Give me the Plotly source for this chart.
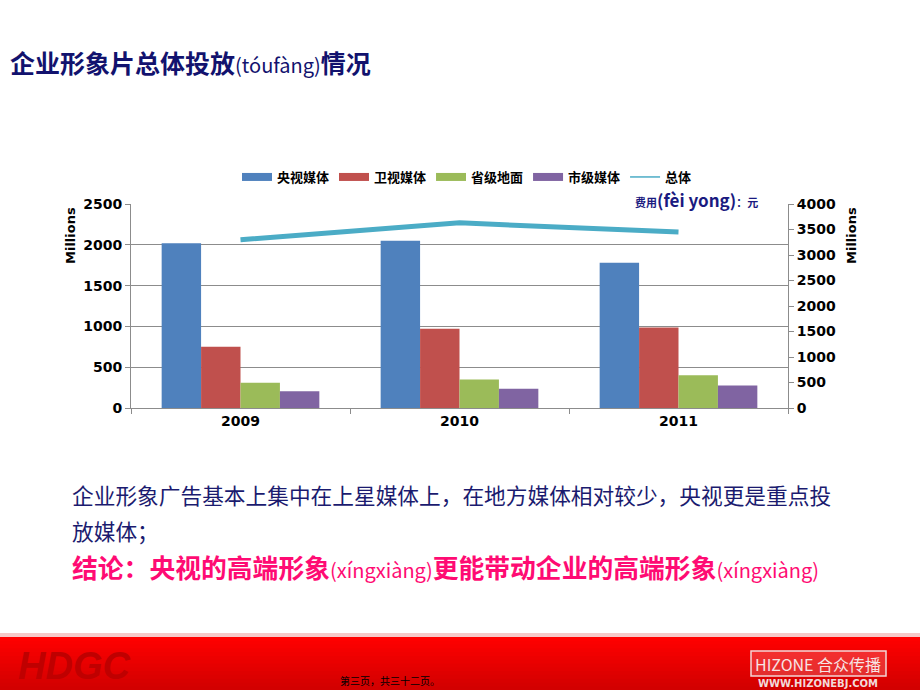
import plotly.graph_objects as go

# chart data
YEARS = ["2009", "2010", "2011"]
CCTV = [2020, 2050, 1780]          # 央视媒体
SATELLITE = [750, 970, 985]        # 卫视媒体
PROVINCIAL = [310, 350, 400]       # 省级地面
CITY = [205, 235, 275]             # 市级媒体
TOTAL = [3300, 3630, 3450]         # 总体

SERIES_NAMES = ["央视媒体", "卫视媒体", "省级地面", "市级媒体"]
SERIES_COLORS = ["#4f81bd", "#c0504d", "#9bbb59", "#8064a2"]
LINE_COLOR = "#4bacc6"

W, H = 920, 690
L, R, T, B = 131, 788, 204, 408   # plot area in pixels
CJK = "Noto Sans CJK SC"
NUM = "DejaVu Sans"


def px_x(px):
	return (px - L) / (R - L)


def px_y(py):
	return (B - py) / (B - T)


fig = go.Figure()

for name, vals, color in zip(SERIES_NAMES, [CCTV, SATELLITE, PROVINCIAL, CITY], SERIES_COLORS):
	fig.add_trace(go.Bar(x=YEARS, y=vals, name=name, marker_color=color, marker_line_width=0,
						 showlegend=False))
	# wide flat legend swatch like the original
	fig.add_trace(go.Scatter(x=[None], y=[None], mode="lines", name=name,
							 line=dict(color=color, width=8)))

fig.add_trace(go.Scatter(
	x=YEARS, y=TOTAL, yaxis="y2", mode="lines", showlegend=False,
	line=dict(color=LINE_COLOR, width=5),
))
# thin legend entry for the line
fig.add_trace(go.Scatter(
	x=[None], y=[None], yaxis="y2", mode="lines", name="总体",
	line=dict(color=LINE_COLOR, width=1.5),
))

annotations = []
shapes = []

# title
annotations.append(dict(
	x=px_x(8), y=px_y(62), xref="paper", yref="paper", xanchor="left", yanchor="middle",
	showarrow=False,
	text="<b>企业形象片总体投放</b><span style='font-size:20px'>(tóufàng)</span><b>情况</b>",
	font=dict(family=CJK, size=25, color="#12126e"),
))

# unit note above the right axis
annotations.append(dict(
	x=px_x(696), y=px_y(199), xref="paper", yref="paper", xanchor="center", yanchor="middle",
	showarrow=False,
	text="<b>费用</b><b><span style='font-size:17px'>(fèi yong)</span></b><b>：元</b>",
	font=dict(family=CJK, size=11, color="#1a1a80"),
))

# axis titles
for xpos in [70, 851]:
	annotations.append(dict(
		x=px_x(xpos), y=px_y(236), xref="paper", yref="paper", xanchor="center", yanchor="middle",
		showarrow=False, textangle=-90, text="<b>Millions</b>",
		font=dict(family=NUM, size=13, color="#000000"),
	))

# body text
annotations.append(dict(
	x=px_x(70), y=px_y(494), xref="paper", yref="paper", xanchor="left", yanchor="middle",
	showarrow=False,
	text="企业形象广告基本上集中在上星媒体上，在地方媒体相对较少，央视更是重点投",
	font=dict(family=CJK, size=21.7, color="#1b1b6f"),
))
annotations.append(dict(
	x=px_x(70), y=px_y(530), xref="paper", yref="paper", xanchor="left", yanchor="middle",
	showarrow=False, text="放媒体；",
	font=dict(family=CJK, size=21.7, color="#1b1b6f"),
))
annotations.append(dict(
	x=px_x(70), y=px_y(566), xref="paper", yref="paper", xanchor="left", yanchor="middle",
	showarrow=False,
	text=("<b>结论：央视的高端形象</b><span style='font-size:20px'>(xíngxiàng)</span>"
		  "<b>更能带动企业的高端形象</b><span style='font-size:20px'>(xíngxiàng)</span>"),
	font=dict(family=CJK, size=25.8, color="#ff0b73"),
))

# footer band: pale edge, then red gradient (each strip runs to the bottom, no seams)
shapes.append(dict(
	type="rect", xref="paper", yref="paper", layer="below",
	x0=px_x(0), x1=px_x(W), y0=px_y(H), y1=px_y(633),
	fillcolor="#f6c8c8", line_width=0,
))
n = 14
top, bot = 637, H
for i in range(n):
	y0 = top + (bot - top) * i / n
	r = int(255 - 45 * i / (n - 1))
	shapes.append(dict(
		type="rect", xref="paper", yref="paper", layer="below",
		x0=px_x(0), x1=px_x(W), y0=px_y(bot), y1=px_y(y0),
		fillcolor=f"rgb({r},0,0)", line_width=0,
	))

annotations.append(dict(
	x=px_x(16), y=px_y(666), xref="paper", yref="paper", xanchor="left", yanchor="middle",
	showarrow=False, text="<b><i>HDGC</i></b>",
	font=dict(family="Liberation Sans", size=38, color="#bf0000"),
))
annotations.append(dict(
	x=px_x(390), y=px_y(680), xref="paper", yref="paper", xanchor="center", yanchor="middle",
	showarrow=False, text="第三页，共三十二页。",
	font=dict(family=CJK, size=10, color="#000000"),
))
shapes.append(dict(
	type="rect", xref="paper", yref="paper",
	x0=px_x(751), x1=px_x(886), y0=px_y(676), y1=px_y(651),
	fillcolor="rgba(255,255,255,0.18)", line=dict(color="#f2d6d6", width=1.5),
))
annotations.append(dict(
	x=px_x(818), y=px_y(664), xref="paper", yref="paper", xanchor="center", yanchor="middle",
	showarrow=False, text="HIZONE 合众传播",
	font=dict(family=CJK, size=16, color="#f7e4e4"),
))
annotations.append(dict(
	x=px_x(818), y=px_y(683), xref="paper", yref="paper", xanchor="center", yanchor="middle",
	showarrow=False, text="<b>WWW.HIZONEBJ.COM</b>",
	font=dict(family=NUM, size=10, color="#f2dada"),
))

fig.update_layout(
	width=W, height=H,
	margin=dict(l=L, r=W - R, t=T, b=H - B, pad=0),
	paper_bgcolor="#ffffff", plot_bgcolor="#ffffff",
	barmode="group", bargap=0.28, bargroupgap=0,
	showlegend=True,
	legend=dict(
		orientation="h", x=px_x(237), y=px_y(177), xanchor="left", yanchor="middle",
		font=dict(family=CJK, size=13, color="#000000", weight="bold"),
		tracegroupgap=0, bgcolor="rgba(0,0,0,0)",
	),
	xaxis=dict(
		type="category", showgrid=False, showline=True, linecolor="#8c8c8c", linewidth=1,
		ticks="outside", tickson="boundaries", ticklen=5, tickcolor="#8c8c8c",
		tickfont=dict(family=NUM, size=14, color="#000000", weight="bold"),
		fixedrange=True,
	),
	yaxis=dict(
		range=[0, 2500], dtick=500, showgrid=True, gridcolor="#8c8c8c", gridwidth=1,
		showline=True, linecolor="#8c8c8c", linewidth=1, zeroline=False,
		ticks="outside", ticklen=5, tickcolor="#8c8c8c",
		tickfont=dict(family=NUM, size=14, color="#000000", weight="bold"),
	),
	yaxis2=dict(
		range=[0, 4000], dtick=500, overlaying="y", side="right", showgrid=False,
		showline=True, linecolor="#8c8c8c", linewidth=1, zeroline=False,
		ticks="outside", ticklen=5, tickcolor="#8c8c8c",
		tickfont=dict(family=NUM, size=14, color="#000000", weight="bold"),
	),
	annotations=annotations,
	shapes=shapes,
)

# the page has a default 8px body margin; drop it so the slide fills the window
fig.write_html("out.html", config={"displayModeBar": False},
			   post_script="document.body.style.margin='0px';")
